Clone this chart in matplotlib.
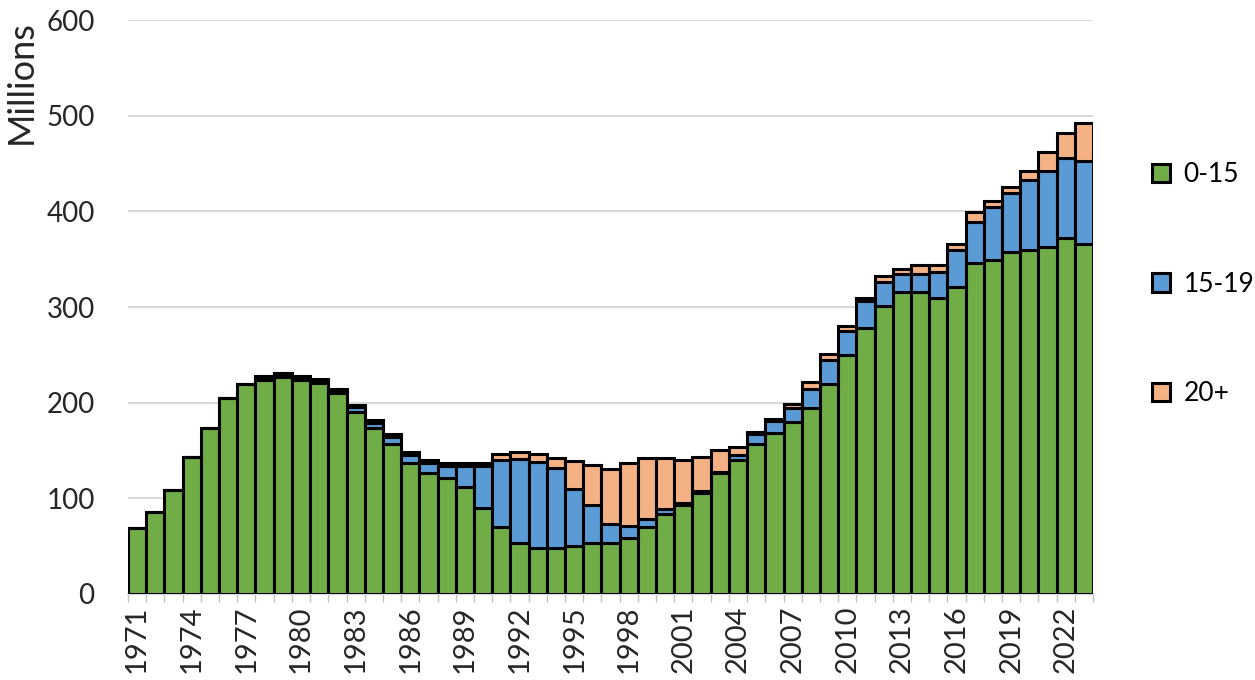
import matplotlib.pyplot as plt
import numpy as np

plt.rcParams["font.family"] = ["Lato", "DejaVu Sans"]

years = list(range(1971, 2024))

# 0-15 segment (millions)
age_0_15 = [
    69, 86, 109, 143, 174, 205, 219, 224, 227, 224,
    221, 210, 190, 173, 157, 137, 126, 121, 112, 90,
    70, 53, 48, 48, 50, 53, 53, 59, 70, 84,
    93, 106, 126, 140, 157, 168, 180, 194, 220, 250,
    278, 301, 316, 316, 309, 321, 346, 349, 357, 360,
    363, 372, 366,
]
# 15-19 segment
age_15_19 = [
    0, 0, 0, 0, 0, 0, 0, 1.5, 1.5, 1.5,
    1.5, 1.5, 5, 6, 7, 8, 11, 13, 22, 44,
    70, 88, 90, 84, 60, 40, 20, 12, 8, 5,
    2, 2, 2, 5, 10, 13, 14, 20, 25, 25,
    28, 25, 19, 19, 28, 39, 43, 56, 62, 73,
    79, 84, 87,
]
# 20+ segment
age_20_plus = [
    0, 0, 0, 0, 0, 0, 0, 2, 2.5, 2,
    2, 2.5, 3, 3, 3, 3, 3, 3, 3, 3,
    6, 7, 8, 10, 29, 42, 58, 66, 64, 53,
    45, 35, 23, 9, 2, 2, 5, 8, 6, 5,
    3, 6, 5, 9, 7, 6, 10, 6, 6, 9,
    20, 26, 39,
]

labels = ["0-15", "15-19", "20+"]
colors = ["#70AD47", "#5B9BD5", "#F4B183"]

fig = plt.figure(figsize=(12.55, 6.8), dpi=100)
ax = fig.add_axes([0.102, 0.1265, 0.769, 0.844])

x = np.arange(len(years))
bottom = np.zeros(len(years))
handles = []
for vals, lab, col in zip([age_0_15, age_15_19, age_20_plus], labels, colors):
    vals = np.array(vals, dtype=float)
    bars = ax.bar(x, vals, bottom=bottom, width=1.0, color=col,
                  edgecolor="black", linewidth=2.2, label=lab, zorder=3)
    handles.append(bars)
    bottom += vals

ax.set_xlim(-0.5, len(years) - 0.5)
ax.set_ylim(0, 600)
ax.set_yticks(range(0, 601, 100))
ax.grid(axis="y", color="#d9d9d9", linewidth=1.5, zorder=0)

for side in ["top", "right", "left"]:
    ax.spines[side].set_visible(False)
ax.spines["bottom"].set_color("#d9d9d9")
ax.spines["bottom"].set_linewidth(1.5)

ax.tick_params(axis="y", length=0, labelsize=20, pad=24, colors="#262626")
ax.set_xticks(x[::3])
ax.set_xticklabels([str(y) for y in years[::3]], rotation=90)
ax.set_xticks(np.arange(-0.5, len(years), 1.0), minor=True)
ax.tick_params(axis="x", which="major", length=0, labelsize=21, pad=8,
               colors="#262626")
ax.tick_params(axis="x", which="minor", length=6, color="#bfbfbf", width=1)

ax.set_ylabel("Millions", fontsize=26, loc="top", color="#262626", labelpad=6)

fig.legend(handles=handles, labels=labels, loc="upper left",
           bbox_to_anchor=(0.899, 0.796), frameon=False, fontsize=19,
           handlelength=0.7, handleheight=0.7, handletextpad=0.5,
           labelspacing=3.2)

fig.savefig("out.png", dpi=100)
